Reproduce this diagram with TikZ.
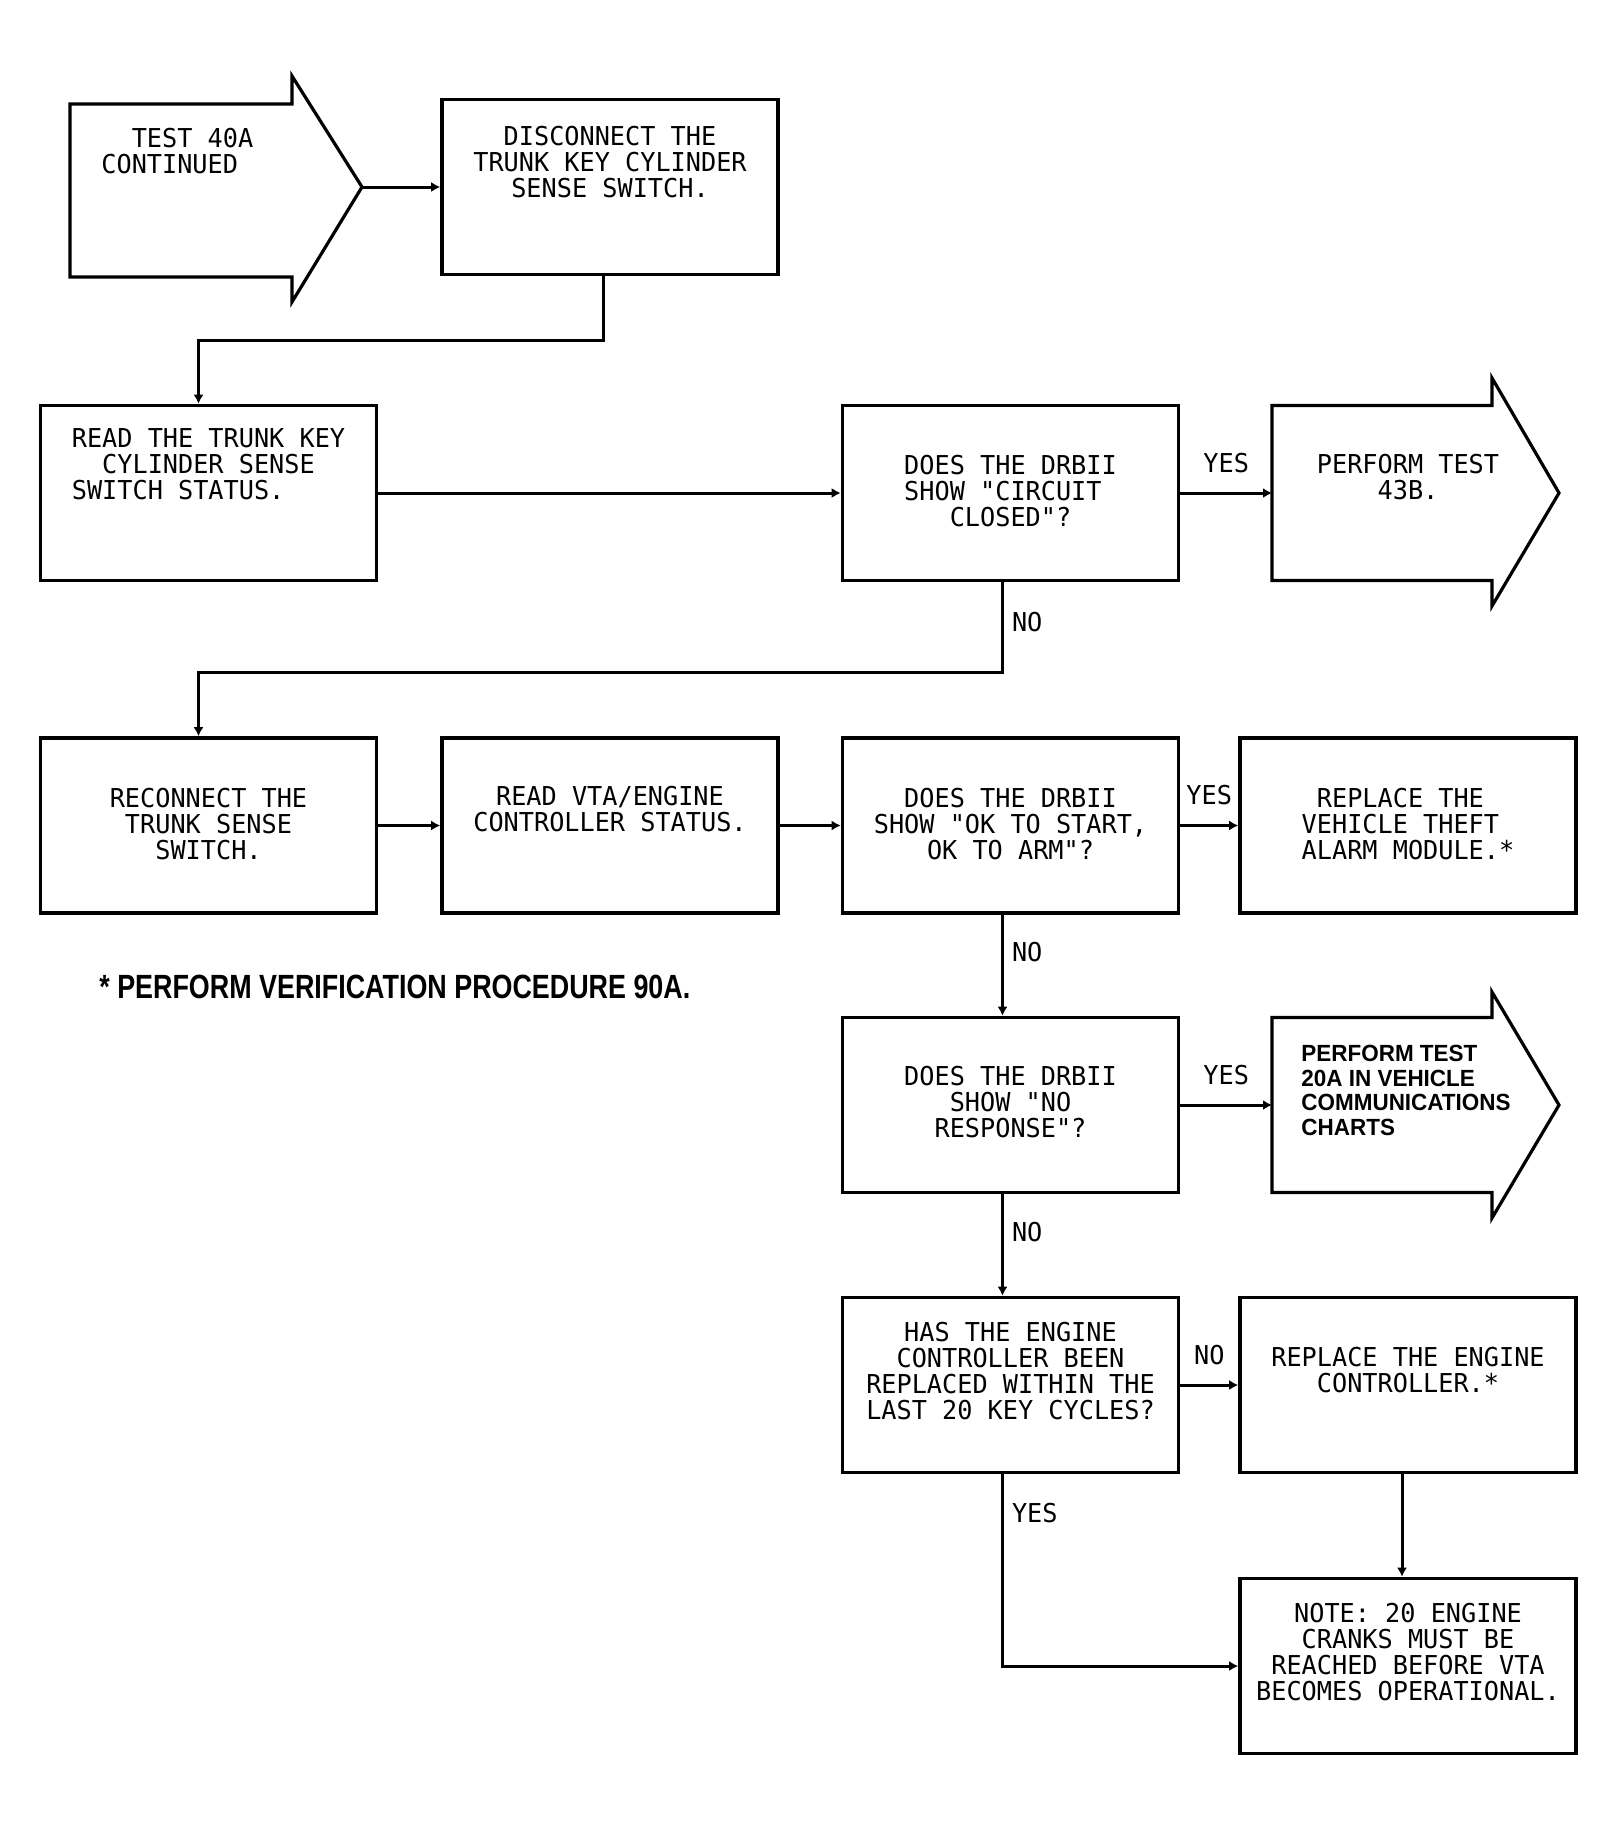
\documentclass[tikz,border=0pt]{standalone}
\usepackage{fontspec}
\newfontfamily\plotfont[FakeStretch=0.97]{DejaVu Sans Mono}
\newfontfamily\footfont[FakeStretch=0.8]{Liberation Sans}
\newfontfamily\chartfont[FakeStretch=0.96]{Liberation Sans}
\usetikzlibrary{arrows.meta}
\usetikzlibrary{positioning}

\begin{document}
\begin{tikzpicture}[x=0.5pt,y=-0.5pt,
        box/.style={draw, line width=1.8pt, minimum width=168pt, minimum height=87.5pt, inner sep=0pt},
        bigarrow/.style={draw, line width=1.6pt, line join=miter},
        txt/.style={font=\plotfont\fontsize{13}{13}\selectfont, align=center, inner sep=0pt},
        lbl/.style={font=\plotfont\fontsize{13}{13}\selectfont, inner sep=0pt},
        link/.style={line width=1.5pt, -{Latex[length=4.5pt,width=5pt]}}]
        \useasboundingbox (0,0) rectangle (1616,1836);
        %%% big arrows
        \draw[bigarrow] (70,104) -- (292,104) -- (292,76) -- (362,187) -- (292,302) -- (292,277) -- (70,277) -- cycle;
        \draw[bigarrow] (1272,405.5) -- (1492,405.5) -- (1492,378) -- (1559,493) -- (1492,606) -- (1492,580.5) -- (1272,580.5) -- cycle;
        \draw[bigarrow] (1272,1017.5) -- (1492,1017.5) -- (1492,992) -- (1559,1105) -- (1492,1218) -- (1492,1192.5) -- (1272,1192.5) -- cycle;
        \coordinate (testtip) at (362,187);
        \coordinate (t43) at (1272,493);
        \coordinate (t20a) at (1272,1105);
        \node[txt, align=left, anchor=north west] (testt) at (101,128) {~~TEST 40A\\CONTINUED};
        \node[txt, anchor=north] (t43t) at (1408,454) {PERFORM TEST\\43B.};
        \node[align=left, anchor=north west, inner sep=0pt, font=\chartfont\bfseries\fontsize{11.7}{12.25}\selectfont] (t20at) at (1301,1045) {PERFORM TEST\\20A IN VEHICLE\\COMMUNICATIONS\\CHARTS};
        %%% boxes
        \node[box] (disc) at (610,187) {};
        \node[box] (read) at (208.5,493) {};
        \node[box] (q1) at (1010.5,493) {};
        \node[box] (recon) at (208.5,825.5) {};
        \node[box] (vta) at (610,825.5) {};
        \node[box] (q2) at (1010.5,825.5) {};
        \node[box] (repvta) at (1408,825.5) {};
        \node[box] (q3) at (1010.5,1105) {};
        \node[box] (q4) at (1010.5,1385) {};
        \node[box] (repeng) at (1408,1385) {};
        \node[box] (note) at (1408,1666) {};
        %%% box texts
        \node[txt, below=14pt of disc.north] (disct) {DISCONNECT THE\\TRUNK KEY CYLINDER\\SENSE SWITCH.};
        \node[txt, align=left, below=12.25pt of read.north] (readt) {READ THE TRUNK KEY\\~~CYLINDER SENSE\\SWITCH STATUS.};
        \node[txt, align=left, below=25.75pt of q1.north] (q1t) {DOES THE DRBII\\SHOW "CIRCUIT\\~~~CLOSED"?};
        \node[txt, below=25.75pt of recon.north] (recont) {RECONNECT THE\\TRUNK SENSE\\SWITCH.};
        \node[txt, below=24.75pt of vta.north] (vtat) {READ VTA/ENGINE\\CONTROLLER STATUS.};
        \node[txt, below=25.75pt of q2.north] (q2t) {DOES THE DRBII\\SHOW "OK TO START,\\OK TO ARM"?};
        \node[txt, align=left, below=25.75pt of repvta.north] (repvtat) {~REPLACE THE\\VEHICLE THEFT\\ALARM MODULE.*};
        \node[txt, below=25.25pt of q3.north] (q3t) {DOES THE DRBII\\SHOW "NO\\RESPONSE"?};
        \node[txt, below=13.25pt of q4.north] (q4t) {HAS THE ENGINE\\CONTROLLER BEEN\\REPLACED WITHIN THE\\LAST 20 KEY CYCLES?};
        \node[txt, below=25.75pt of repeng.north] (repengt) {REPLACE THE ENGINE\\CONTROLLER.*};
        \node[txt, below=13.25pt of note.north] (notet) {NOTE: 20 ENGINE\\CRANKS MUST BE\\REACHED BEFORE VTA\\BECOMES OPERATIONAL.};
        %%% connectors
        \draw[link] (testtip) -- (disc);
        \draw[link] ([xshift=-3.5pt]disc.south) -- ++(0,64) -| ([xshift=-5pt]read.north);
        \draw[link] (read) -- (q1);
        \draw[link] (q1) -- node[lbl, above=9.5pt] {YES} (t43);
        \draw[link] ([xshift=-4pt]q1.south) -- node[lbl, right=4pt, pos=0.44] {NO} ++(0,90) -| ([xshift=-5pt]recon.north);
        \draw[link] (recon) -- (vta);
        \draw[link] (vta) -- (q2);
        \draw[link] (q2) -- node[lbl, above=9.5pt] {YES} (repvta);
        \draw[link] ([xshift=-4pt]q2.south) -- node[lbl, right=4pt, pos=0.37] {NO} ([xshift=-4pt]q3.north);
        \draw[link] (q3) -- node[lbl, above=9.5pt] {YES} (t20a);
        \draw[link] ([xshift=-4pt]q3.south) -- node[lbl, right=4pt, pos=0.37] {NO} ([xshift=-4pt]q4.north);
        \draw[link] (q4) -- node[lbl, above=9.5pt] {NO} (repeng);
        \draw[link] ([xshift=-4pt]q4.south) |- node[lbl, right=4pt, pos=0.1] {YES} (note);
        \draw[link] ([xshift=-3pt]repeng.south) -- ([xshift=-3pt]note.north);
        %%%
        \node[anchor=base west, inner sep=0pt, font=\footfont\bfseries\fontsize{16.8}{16.8}\selectfont] (foot) at (99,998) {* PERFORM VERIFICATION PROCEDURE 90A.};
\end{tikzpicture}
\end{document}
